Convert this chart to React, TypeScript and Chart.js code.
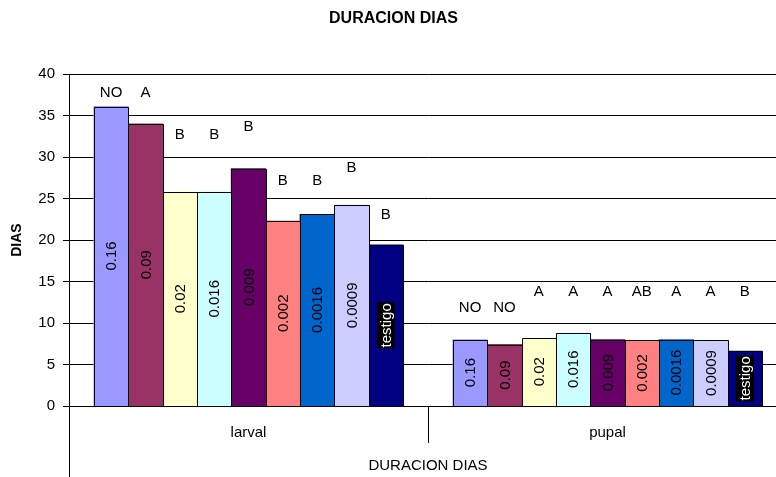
import React, { useEffect, useRef } from 'react';
import { Chart, registerables } from 'chart.js';

Chart.register(...registerables);

const categories = ['larval', 'pupal'];
const concentrations = ['0.16', '0.09', '0.02', '0.016', '0.009', '0.002', '0.0016', '0.0009', 'testigo'];
const larvalDays = [36.1, 34.0, 25.8, 25.8, 28.6, 22.3, 23.1, 24.2, 19.4];
const pupalDays = [8.0, 7.4, 8.2, 8.8, 8.0, 7.9, 8.0, 7.9, 6.6];
const larvalLetters = ['NO', 'A', 'B', 'B', 'B', 'B', 'B', 'B', 'B'];
const pupalLetters = ['NO', 'NO', 'A', 'A', 'A', 'AB', 'A', 'A', 'B'];
// height (in DIAS units) at which each significance letter is written
const larvalLetterLevel = [37.8, 37.8, 32.7, 32.7, 33.7, 27.2, 27.2, 28.7, 23.0];
const pupalLetterLevel = [11.8, 11.8, 13.7, 13.7, 13.7, 13.7, 13.7, 13.7, 13.7];
const colors = ['#9999FF', '#993366', '#FFFFCC', '#CCFFFF', '#660066', '#FF8080', '#0066CC', '#CCCCFF', '#000080'];
const yMin = 0;
const yMax = 40;
const yStep = 5;
const chartTitle = 'DURACION DIAS';
const yTitle = 'DIAS';
const xTitle = 'DURACION DIAS';

const FONT = '"Liberation Sans", Arial, sans-serif';

const letters = [larvalLetters, pupalLetters];
const letterLevels = [larvalLetterLevel, pupalLetterLevel];

const labelPlugin = {
  id: 'barLabels',
  afterDatasetsDraw(chart: any) {
    const ctx = chart.ctx;
    const yScale = chart.scales.y;
    // crisp 1px outlines for every bar (taken from the bar elements)
    ctx.save();
    ctx.strokeStyle = '#000';
    ctx.lineWidth = 1;
    chart.data.datasets.forEach((_ds: any, i: number) => {
      const meta = chart.getDatasetMeta(i);
      meta.data.forEach((bar: any) => {
        const { x, y, base, width } = bar.getProps(['x', 'y', 'base', 'width'], true);
        const l = Math.round(x - width / 2) + 0.5;
        const r = Math.round(x + width / 2) + 0.5;
        const t = Math.round(y) + 0.5;
        const b = Math.round(base);
        ctx.beginPath();
        ctx.moveTo(l, b);
        ctx.lineTo(l, t);
        ctx.lineTo(r, t);
        ctx.lineTo(r, b);
        ctx.stroke();
      });
    });
    ctx.restore();

    chart.data.datasets.forEach((ds: any, i: number) => {
      const meta = chart.getDatasetMeta(i);
      meta.data.forEach((bar: any, j: number) => {
        const { x, y, base } = bar.getProps(['x', 'y', 'base'], true);
        const cy = (y + base) / 2;
        ctx.save();
        ctx.translate(x, cy);
        ctx.rotate(-Math.PI / 2);
        ctx.font = `15px ${FONT}`;
        ctx.textAlign = 'center';
        ctx.textBaseline = 'middle';
        const text = ds.label;
        if (text === 'testigo') {
          const w = ctx.measureText(text).width;
          ctx.fillStyle = '#000';
          ctx.fillRect(-w / 2 - 1, -9, w + 2, 18);
          ctx.fillStyle = '#fff';
        } else {
          ctx.fillStyle = '#000';
        }
        ctx.fillText(text, 0, 1);
        ctx.restore();

        const letter = letters[j][i];
        const ly = yScale.getPixelForValue(letterLevels[j][i]);
        ctx.save();
        ctx.font = `15px ${FONT}`;
        ctx.textAlign = 'center';
        ctx.textBaseline = 'middle';
        ctx.fillStyle = '#000';
        ctx.fillText(letter, x, ly);
        ctx.restore();
      });
    });
  },
  afterDraw(chart: any) {
    const ctx = chart.ctx;
    const { left, bottom } = chart.chartArea;
    const xScale = chart.scales.x;
    const mid = (xScale.getPixelForValue(0) + xScale.getPixelForValue(1)) / 2;
    ctx.save();
    ctx.strokeStyle = '#000';
    ctx.lineWidth = 1;
    ctx.beginPath();
    const lx = Math.round(left) + 0.5;
    ctx.moveTo(lx, bottom);
    ctx.lineTo(lx, chart.height);
    const mx = Math.round(mid) + 0.5;
    ctx.moveTo(mx, bottom);
    ctx.lineTo(mx, bottom + 37);
    ctx.stroke();
    ctx.restore();
  },
};

export default function App() {
  const canvasRef = useRef<HTMLCanvasElement | null>(null);

  useEffect(() => {
    if (!canvasRef.current) return;
    Chart.defaults.color = '#000';
    Chart.defaults.font.family = FONT;
    const datasets = concentrations.map((c, i) => ({
      label: c,
      data: [larvalDays[i], pupalDays[i]],
      backgroundColor: colors[i],
      borderWidth: 0,
      inflateAmount: 0.5,
      categoryPercentage: 0.861,
      barPercentage: 1,
    }));
    const chart = new Chart(canvasRef.current, {
      type: 'bar',
      data: { labels: categories, datasets },
      options: {
        animation: false,
        responsive: true,
        maintainAspectRatio: false,
        layout: { padding: { left: 0, right: 13, top: 0, bottom: 0 } },
        plugins: {
          legend: { display: false },
          tooltip: { enabled: false },
          title: {
            display: true,
            text: chartTitle,
            color: '#000',
            font: { family: FONT, size: 16, weight: 'bold' },
            padding: { top: 9, bottom: 46 },
          },
        },
        scales: {
          x: {
            grid: { display: false, drawTicks: false },
            border: { display: false },
            ticks: { padding: 18, font: { family: FONT, size: 15 }, color: '#000' },
            title: {
              display: true,
              text: xTitle,
              color: '#000',
              font: { family: FONT, size: 15 },
              padding: { top: 0, bottom: 2 },
            },
            afterFit: (scale: any) => {
              scale.height = 71;
            },
          },
          y: {
            min: yMin,
            max: yMax,
            ticks: { stepSize: yStep, padding: 8, font: { family: FONT, size: 15 }, color: '#000' },
            grid: { color: '#000', lineWidth: 1, drawTicks: true, tickLength: 6 },
            border: { display: true, color: '#000', width: 1 },
            title: {
              display: true,
              text: yTitle,
              color: '#000',
              font: { family: FONT, size: 14, weight: 'bold' },
              padding: { top: 9, bottom: 0 },
            },
            afterFit: (scale: any) => {
              scale.width = 69;
            },
          },
        },
      },
      plugins: [labelPlugin],
    } as any);
    return () => chart.destroy();
  }, []);

  return (
    <div style={{ position: 'absolute', left: 0, top: 0, width: 776, height: 477, overflow: 'hidden', background: '#fff' }}>
      <div style={{ position: 'relative', width: 800, height: 477 }}>
        <canvas ref={canvasRef} />
      </div>
    </div>
  );
}
